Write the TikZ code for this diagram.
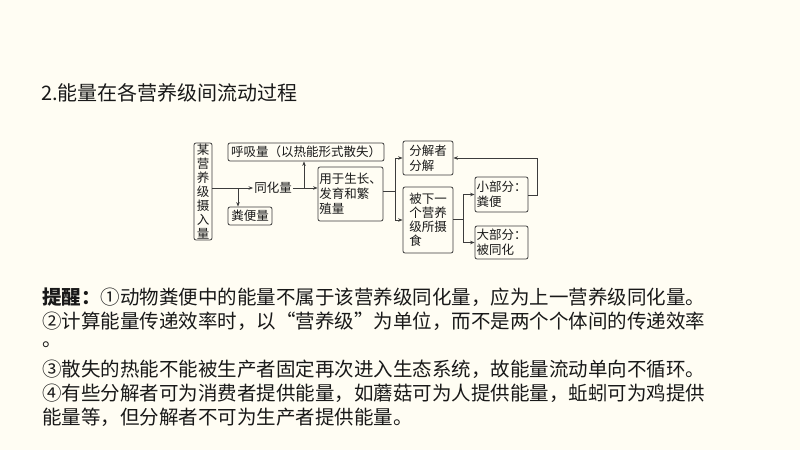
\documentclass[tikz,border=0pt]{standalone}
\usepackage{fontspec}
\setmainfont{Noto Sans CJK SC}
\usetikzlibrary{arrows.meta}
\definecolor{bg}{RGB}{255,253,243}
\definecolor{ln}{RGB}{60,60,60}
\definecolor{tx}{RGB}{25,25,25}
\begin{document}
\begin{tikzpicture}[x=1pt,y=-1pt,
  box/.style={draw=ln, line width=0.8pt, rounded corners=2pt, inner sep=1pt, align=left, text=tx, font=\fontsize{12.5}{15}\selectfont},
  lbl/.style={inner sep=1pt, text=tx, font=\fontsize{12.5}{15}\selectfont},
  conn/.style={draw=ln, line width=0.8pt},
  arr/.style={conn, -{Stealth[length=4.5pt,width=3.5pt]}},
  body/.style={anchor=west, inner sep=0pt, text=tx, font=\fontsize{19.5}{22}\selectfont}]
\fill[bg] (0,0) rectangle (800,450);
\useasboundingbox (0,0) rectangle (800,450);

% title
\node[body, font=\fontsize{20}{22}\selectfont] (title) at (41,93) {2.能量在各营养级间流动过程};

% diagram boxes
\node[box, minimum width=18, minimum height=97, align=center, font=\fontsize{12.5}{13.9}\selectfont] (in) at (203,191.5) {某\\营\\养\\级\\摄\\入\\量};
\node[box, minimum width=156, minimum height=18] (resp) at (306,152) {呼吸量（以热能形式散失）};
\node[lbl] (th) at (273,188) {同化量};
\node[box, minimum width=44, minimum height=18] (fb) at (250,216) {粪便量};
\node[box, minimum width=65, minimum height=54] (use) at (350.5,194) {用于生长、\\发育和繁\\殖量};
\node[box, minimum width=50, minimum height=34] (dec) at (428,158) {分解者\\分解};
\node[box, minimum width=50, minimum height=66, font=\fontsize{12.5}{14}\selectfont] (nxt) at (428,220) {被下一\\个营养\\级所摄\\食};
\node[box, minimum width=53, minimum height=35] (sm) at (501.5,194.5) {小部分：\\粪便};
\node[box, minimum width=53, minimum height=33] (lg) at (501.5,242.5) {大部分：\\被同化};

% connectors
\coordinate (j1) at (238,188);
\coordinate (j2) at (304,188);
\coordinate (j3) at (395,191);
\coordinate (j4) at (463,219);
\coordinate (j5) at (537,195);
\draw[arr] (in.east |- th) -- (th.west);
\draw[arr] (j1) -- (j1 |- fb.north);
\draw[arr] (th.east) -- (th.east -| use.west);
\draw[arr] (j2) -- (j2 |- resp.south);
\draw[conn] (use.east |- j3) -- (j3);
\draw[arr] (j3 |- dec.west) -- (dec.west);
\draw[arr] (j3 |- nxt.west) -- (nxt.west);
\draw[conn] (j3 |- dec.west) -- (j3 |- nxt.west);
\draw[conn] (nxt.east |- j4) -- (j4);
\draw[conn] (j4 |- sm.west) -- (j4 |- lg.west);
\draw[arr] (j4 |- sm.west) -- (sm.west);
\draw[arr] (j4 |- lg.west) -- (lg.west);
\draw[arr] (sm.east |- j5) -- (j5) -- (j5 |- dec.east) -- (dec.east);

% notes
\node[body] (l1) at (42,297) {\textbf{提醒：}①动物粪便中的能量不属于该营养级同化量，应为上一营养级同化量。};
\node[body] (l2) at (42,321) {②计算能量传递效率时，以“营养级”为单位，而不是两个个体间的传递效率};
\node[body] (l2b) at (42,345) {。};
\node[body] (l3) at (42,369) {③散失的热能不能被生产者固定再次进入生态系统，故能量流动单向不循环。};
\node[body] (l4) at (42,393) {④有些分解者可为消费者提供能量，如蘑菇可为人提供能量，蚯蚓可为鸡提供};
\node[body] (l5) at (42,417) {能量等，但分解者不可为生产者提供能量。};
\end{tikzpicture}
\end{document}
